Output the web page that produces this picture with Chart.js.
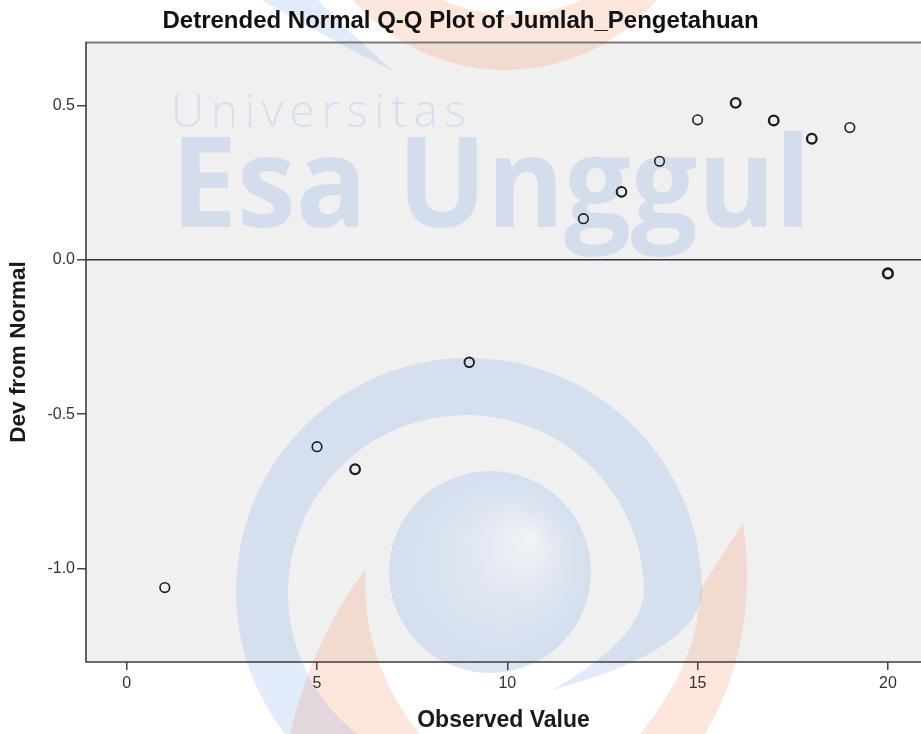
<!DOCTYPE html>
<html>
<head>
<meta charset="utf-8">
<script src="https://cdn.jsdelivr.net/npm/chart.js@4.4.1/dist/chart.umd.min.js"></script>
<style>
  html, body { margin: 0; padding: 0; background: #ffffff; }
  #wrap { width: 921px; height: 734px; }
</style>
</head>
<body>
<div id="wrap"><canvas id="qq" width="921" height="734"></canvas></div>
<script>
// values
const observedValues = [1, 5, 6, 9, 12, 13, 14, 15, 16, 17, 18, 19, 20];
const devFromNormal = [-1.061, -0.605, -0.678, -0.332, 0.133, 0.220, 0.319, 0.453, 0.508, 0.451, 0.392, 0.428, -0.044];
const xTickValues = [0, 5, 10, 15, 20];
const yTickValues = [-1.0, -0.5, 0.0, 0.5];
const xRange = [-1.07, 20.87];
const yRange = [-1.302, 0.705];

// heavier outlines where several cases sit on top of each other
const markerWeights = [1.6, 1.6, 2.2, 1.9, 1.6, 2.1, 1.6, 1.6, 2.3, 2.3, 2.3, 1.6, 2.6];

const FONT = "'Liberation Sans', Arial, sans-serif";

// background of the plot area + the faint university watermark
const plotBackground = {
  id: 'plotBackground',
  beforeDraw(chart) {
    const { ctx, chartArea: a } = chart;
    const d = Math.PI / 180;
    ctx.save();
    ctx.fillStyle = '#f0f0f0';
    ctx.fillRect(a.left, a.top, a.right - a.left, a.bottom - a.top);

    const blue = 'rgba(110, 155, 225, 0.20)';
    const orange = 'rgba(248, 140, 95, 0.22)';

    // top orange bowl
    ctx.fillStyle = orange;
    ctx.beginPath();
    ctx.arc(505, -130, 200, 0, Math.PI * 2);
    ctx.arc(512, -150, 165, 0, Math.PI * 2, true);
    ctx.fill('evenodd');

    // thin blue streak top-left
    ctx.fillStyle = blue;
    ctx.beginPath();
    ctx.moveTo(262, 0);
    ctx.quadraticCurveTo(330, 40, 395, 72);
    ctx.quadraticCurveTo(340, 25, 318, 0);
    ctx.closePath();
    ctx.fill();

    // orange lower crescents (left and right arms)
    ctx.fillStyle = orange;
    ctx.beginPath();
    ctx.moveTo(366, 568);
    ctx.quadraticCurveTo(312, 640, 290, 734);
    ctx.lineTo(420, 734);
    ctx.quadraticCurveTo(360, 660, 366, 568);
    ctx.closePath();
    ctx.fill();
    ctx.beginPath();
    ctx.moveTo(743, 523);
    ctx.quadraticCurveTo(760, 640, 705, 734);
    ctx.lineTo(640, 734);
    ctx.quadraticCurveTo(700, 660, 700, 590);
    ctx.closePath();
    ctx.fill();

    // big blue ring, spiralling in at the lower right
    ctx.fillStyle = blue;
    ctx.beginPath();
    ctx.arc(469, 591, 233, 100 * d, 360 * d);
    ctx.quadraticCurveTo(700, 650, 552, 690);
    ctx.quadraticCurveTo(640, 640, 644, 593);
    ctx.arc(466, 593, 178, 360 * d, 100 * d, true);
    ctx.closePath();
    ctx.fill();

    // sphere
    const g = ctx.createRadialGradient(530, 540, 5, 490, 572, 102);
    g.addColorStop(0, 'rgba(240, 242, 246, 0.9)');
    g.addColorStop(1, 'rgba(190, 208, 236, 0.55)');
    ctx.fillStyle = g;
    ctx.beginPath();
    ctx.arc(490, 572, 101, 0, Math.PI * 2);
    ctx.fill();

    // watermark words
    ctx.fillStyle = 'rgba(110, 155, 225, 0.2)';
    ctx.textBaseline = 'alphabetic';
    ctx.font = "300 46px 'Open Sans', " + FONT;
    const uni = 'Universitas';
    const uw = ctx.measureText(uni).width;
    const spacing = (295 - uw) / (uni.length - 1);
    let cx = 171;
    for (const ch of uni) {
      ctx.fillText(ch, cx, 127);
      cx += ctx.measureText(ch).width + spacing;
    }

    ctx.fillStyle = 'rgba(110, 155, 225, 0.22)';
    ctx.font = "bold 126px 'Open Sans', " + FONT;
    const esa = 'Esa Unggul';
    const ew = ctx.measureText(esa).width;
    ctx.translate(171, 227);
    ctx.scale(640 / ew, 1);
    ctx.fillText(esa, 0, 0);
    ctx.restore();
  },
  afterDraw(chart) {
    const { ctx, chartArea: a } = chart;
    ctx.save();
    ctx.lineWidth = 2;
    ctx.strokeStyle = '#7a7a7a';
    ctx.beginPath();
    ctx.moveTo(a.left, a.top + 0.5);
    ctx.lineTo(a.right, a.top + 0.5);
    ctx.stroke();
    ctx.strokeStyle = '#3c3c3c';
    ctx.lineWidth = 1.6;
    ctx.beginPath();
    ctx.moveTo(a.left, a.top);
    ctx.lineTo(a.left, a.bottom);
    ctx.lineTo(a.right, a.bottom);
    ctx.stroke();
    ctx.restore();
  }
};

const points = observedValues.map((x, i) => ({ x, y: devFromNormal[i] }));

new Chart(document.getElementById('qq'), {
  type: 'scatter',
  data: {
    datasets: [
      {
        label: 'Zero',
        type: 'line',
        data: [{ x: xRange[0], y: 0 }, { x: xRange[1], y: 0 }],
        borderColor: '#333333',
        borderWidth: 1.6,
        pointRadius: 0,
        fill: false,
      },
      {
        label: 'Dev from Normal',
        data: points,
        pointStyle: 'circle',
        pointRadius: 4.8,
        pointBorderWidth: markerWeights,
        pointBorderColor: '#1e1e1e',
        pointBackgroundColor: 'rgba(0,0,0,0)',
        pointHoverRadius: 4.8,
      },
    ],
  },
  options: {
    responsive: false,
    animation: false,
    events: [],
    layout: { padding: 0, autoPadding: false },
    plugins: {
      legend: { display: false },
      tooltip: { enabled: false },
      title: {
        display: true,
        text: 'Detrended Normal Q-Q Plot of Jumlah_Pengetahuan',
        color: '#111111',
        font: { family: FONT, size: 24, weight: 'bold', lineHeight: 1.2 },
        padding: { top: 7, bottom: 6.2 },
      },
    },
    scales: {
      x: {
        type: 'linear',
        position: 'bottom',
        min: xRange[0],
        max: xRange[1],
        afterBuildTicks: s => { s.ticks = xTickValues.map(v => ({ value: v })); },
        afterFit: s => { s.height = 72; },
        border: { display: false },
        grid: { drawOnChartArea: false, drawTicks: true, tickLength: 8, color: '#444', lineWidth: 1.5 },
        ticks: { color: '#333', font: { family: FONT, size: 16 }, padding: 4, maxRotation: 0, autoSkip: false },
        title: {
          display: true,
          text: 'Observed Value',
          color: '#1a1a1a',
          font: { family: FONT, size: 23, weight: 'bold', lineHeight: 1.2 },
          padding: { top: 4, bottom: 0 },
        },
      },
      y: {
        type: 'linear',
        min: yRange[0],
        max: yRange[1],
        afterBuildTicks: s => { s.ticks = yTickValues.map(v => ({ value: v })); },
        afterFit: s => { s.width = 86; },
        border: { display: false },
        grid: { drawOnChartArea: false, drawTicks: true, tickLength: 9, color: '#444', lineWidth: 1.5 },
        ticks: {
          color: '#333',
          font: { family: FONT, size: 16 },
          padding: 2,
          callback: v => v.toFixed(1),
        },
        title: {
          display: true,
          text: 'Dev from Normal',
          color: '#1a1a1a',
          font: { family: FONT, size: 22.5, weight: 'bold', lineHeight: 1.2 },
          padding: { top: 5, bottom: 0 },
        },
      },
    },
  },
  plugins: [plotBackground],
});
</script>
</body>
</html>
